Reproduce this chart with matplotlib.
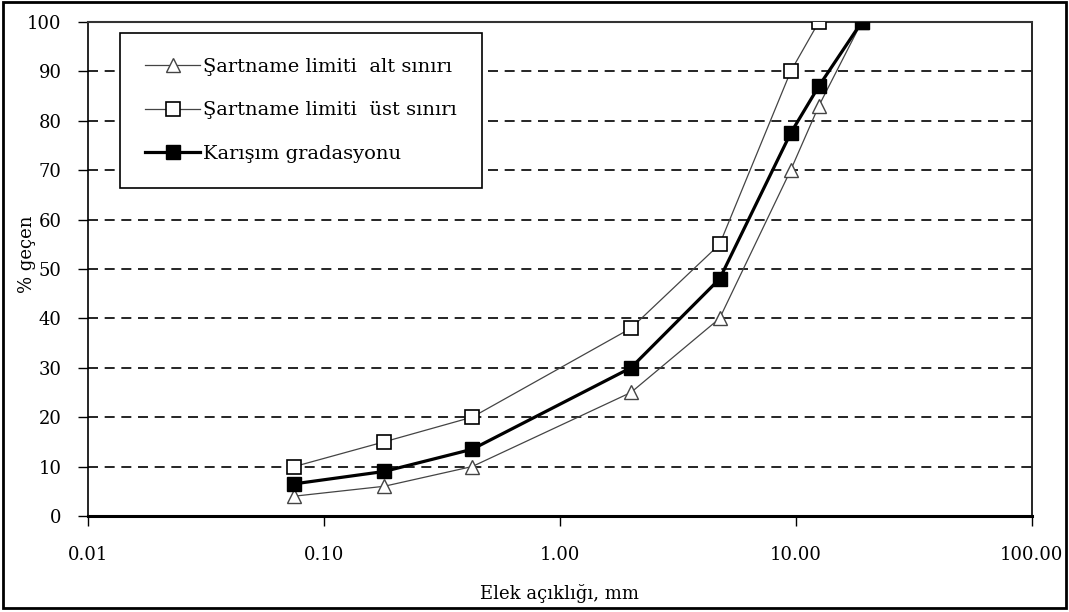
import matplotlib
matplotlib.use("Agg")
import matplotlib.pyplot as plt
from matplotlib.patches import Rectangle

plt.rcParams['font.family'] = ['DejaVu Serif']

# elek açıklıkları (mm)
elek = [0.075, 0.18, 0.425, 2.0, 4.75, 9.5, 12.5, 19.0]
alt_sinir = [4, 6, 10, 25, 40, 70, 83, 100]
ust_sinir = [10, 15, 20, 38, 55, 90, 100]
karisim = [6.5, 9, 13.5, 30, 48, 77.5, 87, 100]

xticks = [0.01, 0.1, 1, 10, 100]
xticklabels = ['0.01', '0.10', '1.00', '10.00', '100.00']
yticks = list(range(0, 101, 10))

fig = plt.figure(figsize=(10.69, 6.12), dpi=100)
ax = fig.add_axes([0.0823, 0.157, 0.883, 0.807])

ax.plot(elek, alt_sinir, color='#444444', lw=0.9, marker='^', ms=10,
        mfc='white', mec='#444444', mew=1.0, label='Şartname limiti  alt sınırı', zorder=3)
ax.plot(elek[:len(ust_sinir)], ust_sinir, color='#444444', lw=0.9, marker='s', ms=9.5,
        mfc='white', mec='black', mew=1.2, label='Şartname limiti  üst sınırı', zorder=3)
ax.plot(elek, karisim, color='black', lw=2.3, marker='s', ms=9.5,
        mfc='black', mec='black', label='Karışım gradasyonu', zorder=4)

ax.set_xscale('log')
ax.set_xlim(0.01, 100)
ax.set_ylim(0, 100)
ax.set_xticks(xticks)
ax.set_xticklabels(xticklabels)
ax.minorticks_off()
ax.set_yticks(yticks)
ax.tick_params(axis='both', direction='out', length=7, width=1, labelsize=13)
ax.tick_params(axis='y', pad=12)
ax.tick_params(axis='x', pad=15)

for y in yticks[1:-1]:
    ax.axhline(y, color='black', lw=1.2, ls=(0, (6, 4)), zorder=1)

ax.spines['bottom'].set_linewidth(2.2)
ax.spines['left'].set_linewidth(1.2)
ax.spines['top'].set_linewidth(1.5)
ax.spines['right'].set_linewidth(1.2)
ax.spines['top'].set_color('#333333')

ax.set_xlabel('Elek açıklığı, mm', fontsize=13, labelpad=14)
ax.set_ylabel('% geçen', fontsize=13)
ax.yaxis.set_label_coords(-0.055, 0.53)

leg = ax.legend(loc='upper left', bbox_to_anchor=(0.034, 0.978), fontsize=14,
                frameon=True, fancybox=False, edgecolor='black', framealpha=1,
                handlelength=2.8, borderpad=1.3, labelspacing=1.3, handletextpad=0.15,
                borderaxespad=0)
leg.get_frame().set_linewidth(1.2)

fig.patches.append(Rectangle((0.003, 0.006), 0.994, 0.99, transform=fig.transFigure,
                             fill=False, edgecolor='black', lw=2))

fig.savefig('out.png', dpi=100)
